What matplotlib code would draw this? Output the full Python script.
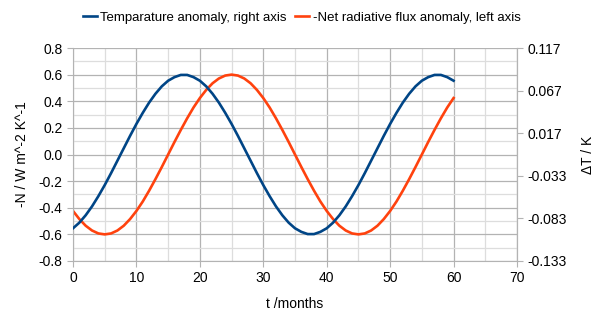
import matplotlib
matplotlib.use("Agg")
import matplotlib.pyplot as plt
from matplotlib.ticker import MultipleLocator

# data (1-month steps)
months = list(range(61))
neg_flux = [-0.424, -0.485, -0.535, -0.571, -0.593, -0.600, -0.593, -0.571, -0.535, -0.485,
            -0.424, -0.353, -0.272, -0.185, -0.094, 0.000, 0.094, 0.185, 0.272, 0.353,
            0.424, 0.485, 0.535, 0.571, 0.593, 0.600, 0.593, 0.571, 0.535, 0.485,
            0.424, 0.353, 0.272, 0.185, 0.094, 0.000, -0.094, -0.185, -0.272, -0.353,
            -0.424, -0.485, -0.535, -0.571, -0.593, -0.600, -0.593, -0.571, -0.535, -0.485,
            -0.424, -0.353, -0.272, -0.185, -0.094, 0.000, 0.094, 0.185, 0.272, 0.353,
            0.424]
temp_anom = [-0.0946, -0.0880, -0.0793, -0.0689, -0.0569, -0.0439, -0.0299, -0.0153, -0.0007, 0.0139,
             0.0279, 0.0409, 0.0529, 0.0633, 0.0720, 0.0786, 0.0828, 0.0854, 0.0854, 0.0828,
             0.0786, 0.0720, 0.0633, 0.0529, 0.0409, 0.0279, 0.0139, -0.0007, -0.0153, -0.0299,
             -0.0439, -0.0569, -0.0689, -0.0793, -0.0880, -0.0946, -0.0988, -0.1014, -0.1014, -0.0988,
             -0.0946, -0.0880, -0.0793, -0.0689, -0.0569, -0.0439, -0.0299, -0.0153, -0.0007, 0.0139,
             0.0279, 0.0409, 0.0529, 0.0633, 0.0720, 0.0786, 0.0828, 0.0854, 0.0854, 0.0828,
             0.0786]
left_ticks = [-0.8, -0.6, -0.4, -0.2, 0.0, 0.2, 0.4, 0.6, 0.8]
right_ticks = [-0.133, -0.083, -0.033, 0.017, 0.067, 0.117]

plt.rcParams['font.family'] = ['Liberation Sans', 'DejaVu Sans']
plt.rcParams['font.size'] = 10

BLUE = "#004586"
ORANGE = "#ff420e"
GRID = "#b3b3b3"

fig = plt.figure(figsize=(5.97, 3.12), dpi=100)
ax = fig.add_axes([73 / 597, 1 - 261 / 312, (517 - 73) / 597, (261 - 48) / 312])
ax2 = ax.twinx()

ax.plot(months, neg_flux, color=ORANGE, lw=1.9, label="-Net radiative flux anomaly, left axis")
ax2.plot(months, temp_anom, color=BLUE, lw=1.9, label="Temparature anomaly, right axis")

ax.set_xlim(0, 70)
ax.set_ylim(-0.8, 0.8)
ax.set_yticks(left_ticks)
ax.set_yticklabels([f"{v:.1f}" for v in left_ticks])
ax.xaxis.set_major_locator(MultipleLocator(10))
ax.xaxis.set_minor_locator(MultipleLocator(5))
ax.yaxis.set_minor_locator(MultipleLocator(0.1))
ax.grid(which="major", color=GRID, lw=0.9)
ax.grid(which="minor", color="#dddddd", lw=0.9)
ax.set_axisbelow(True)

ax2.set_ylim(-0.133, 0.117)
ax2.set_yticks(right_ticks)
ax2.set_yticklabels([f"{v:.3f}" for v in right_ticks])

for a in (ax, ax2):
    for s in a.spines.values():
        s.set_color(GRID)
    a.spines["top"].set_visible(False)
    a.tick_params(which="major", color=GRID, length=4, labelsize=10)
    a.tick_params(which="minor", length=0)
ax2.spines["left"].set_visible(False)
ax2.spines["bottom"].set_visible(False)

ax.set_xlabel("t /months", fontsize=10, labelpad=8)
ax.set_ylabel("-N / W m^-2 K^-1", fontsize=10, labelpad=7)
ax2.set_ylabel("ΔT / K", fontsize=10, labelpad=10)

h1, l1 = ax2.get_legend_handles_labels()
h2, l2 = ax.get_legend_handles_labels()
fig.legend(h1 + h2, l1 + l2, loc="upper center", bbox_to_anchor=(0.505, 1.0), ncol=2,
           frameon=False, fontsize=9.5, handlelength=1.1, handletextpad=0.25, columnspacing=0.6)

fig.savefig("out.png", dpi=100)
